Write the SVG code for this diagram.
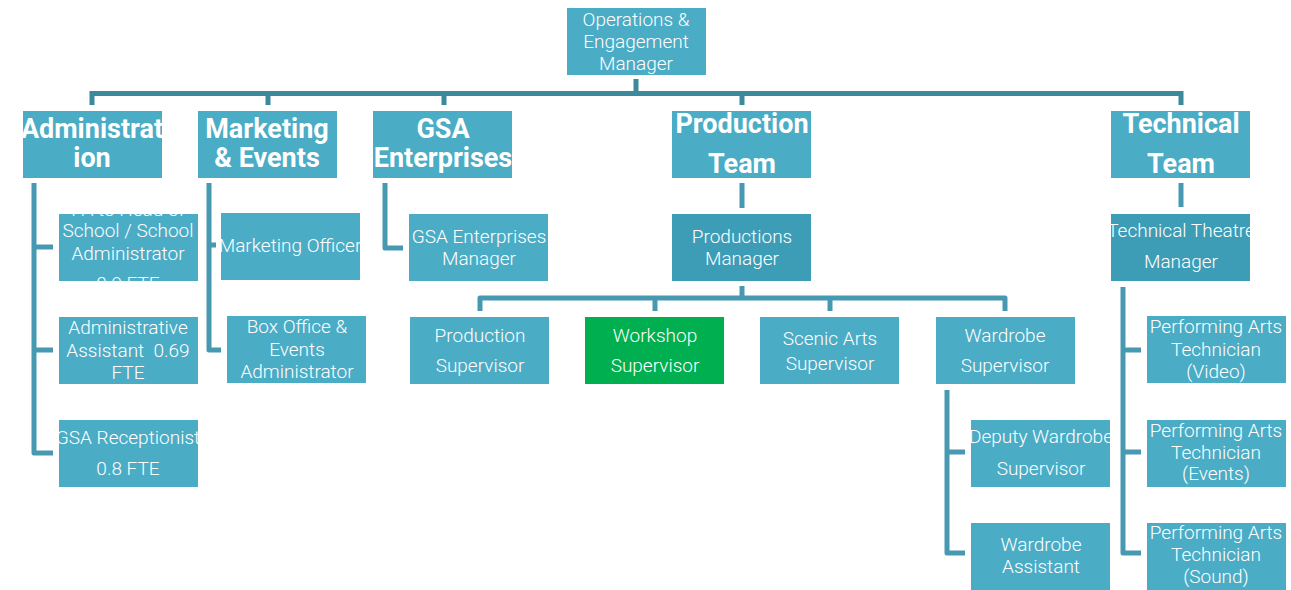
<svg xmlns="http://www.w3.org/2000/svg" width="1291" height="590" viewBox="0 0 1291 590">
<style>
.box{fill:#4bacc6}
.dark{fill:#3d9db7}
.green{fill:#00b050}
.t{font-family:Roboto,"Liberation Sans",sans-serif;font-size:19px;font-weight:300;fill:#fff;text-anchor:middle}
.h{font-family:Roboto,"Liberation Sans",sans-serif;font-size:27px;font-weight:bold;fill:#fff;text-anchor:middle}
.bus{fill:none;stroke:#3b899b;stroke-width:5}
.ln{fill:none;stroke:#4699b1;stroke-width:5;stroke-linejoin:round}
</style>
<defs>
<clipPath id="cAdm"><rect x="23" y="111" width="139" height="67"/></clipPath>
<clipPath id="cPA"><rect x="59" y="214" width="139" height="67"/></clipPath>
<clipPath id="cRec"><rect x="59" y="420" width="139" height="67"/></clipPath>
<clipPath id="cMO"><rect x="221" y="213" width="139" height="67"/></clipPath>
<clipPath id="cDW"><rect x="971" y="420" width="139" height="67"/></clipPath>
<clipPath id="cTTM"><rect x="1111" y="214" width="139" height="67"/></clipPath>
</defs>
<rect width="1291" height="590" fill="#fff"/>
<g id="connectors">
<path class="bus" d="M636 79V93.5M92 105V93.5H1181V105M268 93.5V105M444 93.5V105M742 93.5V105"/>
<path class="ln" d="M34 183V453H53M34 247H53M34 350H53"/>
<path class="ln" d="M209 183V350H221M209 245H216"/>
<path class="ln" d="M385 183V248H403"/>
<path class="ln" d="M742 183V208M742 286V298M480 311V298H1005V311M655 298V311M830 298V311"/>
<path class="ln" d="M947 390V553H965M947 452H965"/>
<path class="ln" d="M1181 183V207M1123 287V553H1141M1123 350H1141M1123 452H1141"/>
</g>
<g id="n-ops"><rect class="box" x="567" y="8" width="139" height="67"/>
<text class="t" x="636" y="26">Operations &amp;</text><text class="t" x="636" y="48">Engagement</text><text class="t" x="636" y="70">Manager</text></g>
<g id="n-admin"><rect class="box" x="23" y="111" width="139" height="67"/>
<g clip-path="url(#cAdm)"><text class="h" x="92" y="138">Administrat</text><text class="h" x="92" y="167">ion</text></g></g>
<g id="n-mkt"><rect class="box" x="198" y="111" width="139" height="67"/>
<text class="h" x="267" y="138">Marketing</text><text class="h" x="267" y="167">&amp; Events</text></g>
<g id="n-gsa"><rect class="box" x="373" y="111" width="139" height="67"/>
<text class="h" x="443" y="138">GSA</text><text class="h" x="443" y="167">Enterprises</text></g>
<g id="n-prod"><rect class="box" x="672" y="111" width="139" height="67"/>
<text class="h" x="742" y="133">Production</text><text class="h" x="742" y="173">Team</text></g>
<g id="n-tech"><rect class="box" x="1111" y="111" width="139" height="67"/>
<text class="h" x="1181" y="133">Technical</text><text class="h" x="1181" y="173">Team</text></g>
<g id="n-pa"><rect class="box" x="59" y="214" width="139" height="67"/>
<g clip-path="url(#cPA)"><text class="t" x="128" y="216">PA to Head of</text><text class="t" x="128" y="237">School / School</text><text class="t" x="128" y="260">Administrator</text><text class="t" x="128" y="290">0.9 FTE</text></g></g>
<g id="n-aa"><rect class="box" x="59" y="317" width="139" height="67"/>
<text class="t" x="128" y="334">Administrative</text><text class="t" x="128" y="357" xml:space="preserve">Assistant  0.69</text><text class="t" x="128" y="379">FTE</text></g>
<g id="n-rec"><rect class="box" x="59" y="420" width="139" height="67"/>
<g clip-path="url(#cRec)"><text class="t" x="128" y="444">GSA Receptionist</text><text class="t" x="128" y="475">0.8 FTE</text></g></g>
<g id="n-mo"><rect class="box" x="221" y="213" width="139" height="67"/>
<g clip-path="url(#cMO)"><text class="t" x="290" y="252">Marketing Officer</text></g></g>
<g id="n-box"><rect class="box" x="227" y="316" width="139" height="67"/>
<text class="t" x="297" y="333">Box Office &amp;</text><text class="t" x="297" y="356">Events</text><text class="t" x="297" y="378">Administrator</text></g>
<g id="n-gsam"><rect class="box" x="409" y="214" width="139" height="67"/>
<text class="t" x="479" y="243">GSA Enterprises</text><text class="t" x="479" y="265">Manager</text></g>
<g id="n-pm"><rect class="dark" x="672" y="214" width="139" height="67"/>
<text class="t" x="742" y="243">Productions</text><text class="t" x="742" y="265">Manager</text></g>
<g id="n-ps"><rect class="box" x="410" y="317" width="139" height="67"/>
<text class="t" x="480" y="342">Production</text><text class="t" x="480" y="372">Supervisor</text></g>
<g id="n-ws"><rect class="green" x="585" y="317" width="139" height="67"/>
<text class="t" x="655" y="342">Workshop</text><text class="t" x="655" y="372">Supervisor</text></g>
<g id="n-sa"><rect class="box" x="760" y="317" width="139" height="67"/>
<text class="t" x="830" y="345">Scenic Arts</text><text class="t" x="830" y="370">Supervisor</text></g>
<g id="n-wr"><rect class="box" x="936" y="317" width="139" height="67"/>
<text class="t" x="1005" y="342">Wardrobe</text><text class="t" x="1005" y="372">Supervisor</text></g>
<g id="n-dw"><rect class="box" x="971" y="420" width="139" height="67"/>
<g clip-path="url(#cDW)"><text class="t" x="1041" y="443">Deputy Wardrobe</text><text class="t" x="1041" y="475">Supervisor</text></g></g>
<g id="n-wa"><rect class="box" x="971" y="523" width="139" height="67"/>
<text class="t" x="1041" y="551">Wardrobe</text><text class="t" x="1041" y="573">Assistant</text></g>
<g id="n-ttm"><rect class="dark" x="1111" y="214" width="139" height="67"/>
<g clip-path="url(#cTTM)"><text class="t" x="1181" y="237">Technical Theatre</text><text class="t" x="1181" y="268">Manager</text></g></g>
<g id="n-pav"><rect class="box" x="1147" y="316" width="139" height="67"/>
<text class="t" x="1216" y="333">Performing Arts</text><text class="t" x="1216" y="356">Technician</text><text class="t" x="1216" y="378">(Video)</text></g>
<g id="n-pae"><rect class="box" x="1147" y="420" width="139" height="67"/>
<text class="t" x="1216" y="437">Performing Arts</text><text class="t" x="1216" y="459">Technician</text><text class="t" x="1216" y="480">(Events)</text></g>
<g id="n-pas"><rect class="box" x="1147" y="523" width="139" height="67"/>
<text class="t" x="1216" y="539">Performing Arts</text><text class="t" x="1216" y="561">Technician</text><text class="t" x="1216" y="583">(Sound)</text></g>
</svg>
